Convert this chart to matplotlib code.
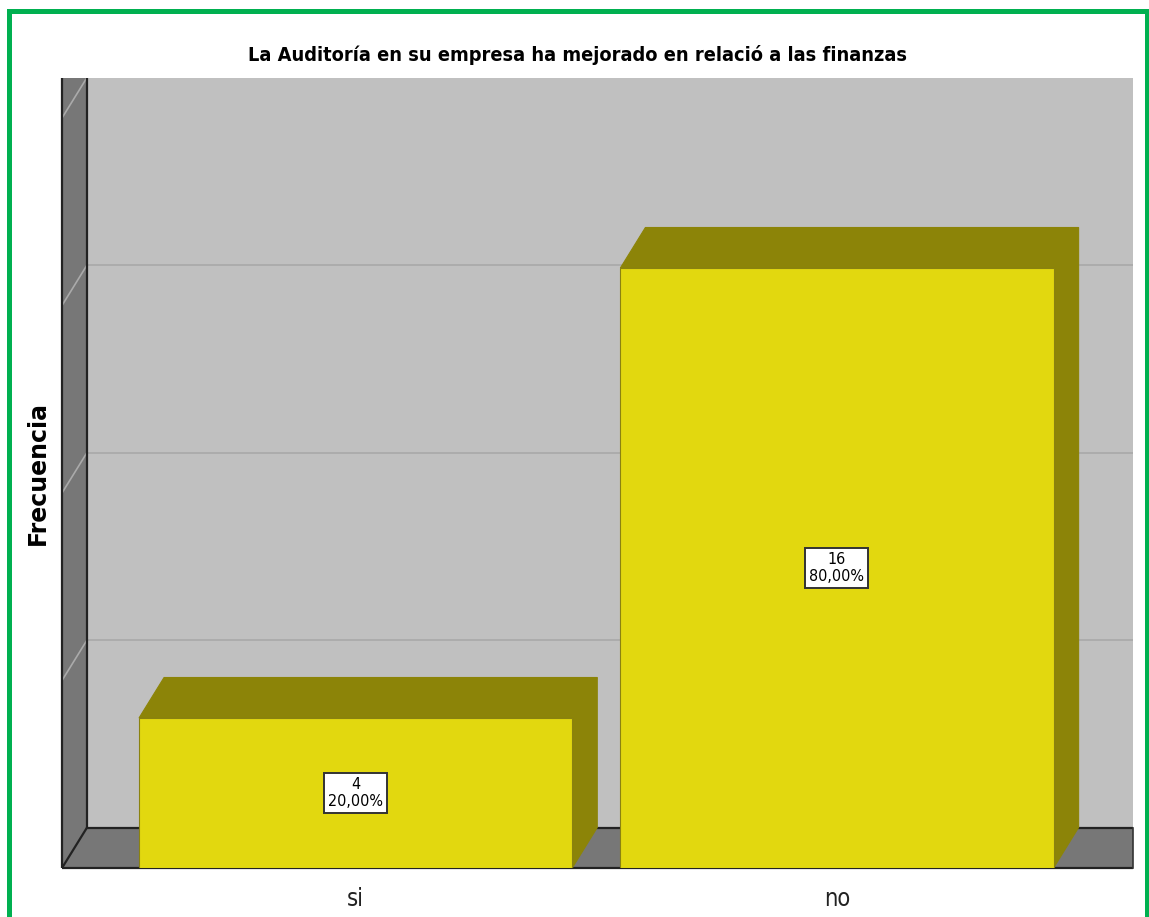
import matplotlib
matplotlib.use("Agg")
import matplotlib.pyplot as plt
from matplotlib.patches import Polygon, Rectangle

# data
categories = ["si", "no"]
counts = [4, 16]
percents = ["20,00%", "80,00%"]
y_max = 20
grid_vals = [5, 10, 15, 20]

title = "La Auditoría en su empresa ha mejorado en relació a las finanzas"
ylabel = "Frecuencia"

# style
FRONT = "#e2d80f"
DARK = "#8c8408"
WALL = "#c0c0c0"
SIDE = "#777777"
GRID = "#a9a9a9"
COND = dict(family="DejaVu Sans", fontstretch="condensed")

bar_w = 0.9
dx, dy = 0.052, 1.08          # depth offset in data units
x0, x1 = -0.61, 1.615

fig = plt.figure(figsize=(11.49, 9.17), dpi=100)
ax = fig.add_axes([62 / 1149, 49 / 917, 1071 / 1149, 790.5 / 917])
ax.set_xlim(x0, x1)
ax.set_ylim(0, y_max + dy)
for s in ax.spines.values():
    s.set_visible(False)
ax.set_yticks([])
ax.set_xticks(range(len(categories)))
ax.set_xticklabels(categories, fontsize=17, color="#222222", **COND)
ax.tick_params(axis="x", length=0, pad=14)

top = y_max + dy
# back wall
ax.add_patch(Rectangle((x0 + dx, dy), x1 - x0 - dx, top - dy, facecolor=WALL, edgecolor="none", zorder=0))
# left wall and floor
ax.add_patch(Polygon([(x0, 0), (x0 + dx, dy), (x0 + dx, top), (x0, top)], closed=True,
                     facecolor=SIDE, edgecolor="none", zorder=1))
ax.add_patch(Polygon([(x0, 0), (x1, 0), (x1, dy), (x0 + dx, dy)], closed=True,
                     facecolor=SIDE, edgecolor="none", zorder=1))

for g in grid_vals:
    if g < y_max:
        ax.plot([x0 + dx, x1], [g + dy, g + dy], color=GRID, lw=1.2, zorder=0.5)
    ax.plot([x0, x0 + dx], [g, g + dy], color="#aaaaaa", lw=1.2, zorder=1.5)

# edges
edge = dict(color="#222222", lw=1.6, zorder=2, clip_on=False, solid_capstyle="butt")
ax.plot([x0 + dx, x0 + dx], [dy, top], **edge)
ax.plot([x0 + dx, x1], [dy, dy], **edge)
ax.plot([x0, x0 + dx], [0, dy], **edge)
ax.plot([x0, x0], [0, top], **edge)
ax.plot([x0, x1], [0, 0], **edge)
ax.plot([x1, x1], [0, dy], color="#333333", lw=1.2, zorder=2, clip_on=False)

# bars
for i, (v, p) in enumerate(zip(counts, percents)):
    l, r = i - bar_w / 2, i + bar_w / 2
    ax.add_patch(Polygon([(l, v), (l + dx, v + dy), (r + dx, v + dy), (r, v)], closed=True,
                         facecolor=DARK, edgecolor=DARK, lw=0.8, zorder=3))
    ax.add_patch(Polygon([(r, 0), (r + dx, dy), (r + dx, v + dy), (r, v)], closed=True,
                         facecolor=DARK, edgecolor=DARK, lw=0.8, zorder=3))
    ax.add_patch(Rectangle((l, 0), bar_w, v, facecolor=FRONT, edgecolor="#8a8210", lw=0.8, zorder=4))
    ax.text(i, v / 2, f"{v}\n{p}", ha="center", va="center", fontsize=11.5, linespacing=1.2,
            zorder=5, bbox=dict(boxstyle="square,pad=0.25", facecolor="white",
                                edgecolor="#333333", lw=1.4), **COND)

ax.set_ylabel(ylabel, fontsize=17, fontweight="bold", labelpad=9, family="DejaVu Sans")
fig.text(578 / 1149, 1 - 55 / 917, title, ha="center", va="center", fontsize=14.3,
         fontweight="bold", **COND)

# green frame
fig.patches.append(Rectangle((9 / 1149, -0.05), 1138 / 1149, 1 - 11 / 917 + 0.05,
                             transform=fig.transFigure, fill=False, edgecolor="#00b050", lw=3.6))

fig.savefig("out.png", dpi=100, facecolor="white")
